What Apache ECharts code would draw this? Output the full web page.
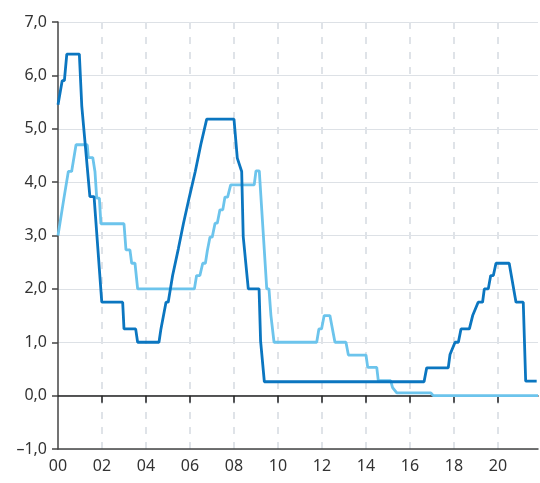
<!DOCTYPE html>
<html>
<head>
<meta charset="utf-8">
<script src="https://cdn.jsdelivr.net/npm/echarts@6/dist/echarts.min.js"></script>
<style>
html,body{margin:0;padding:0;background:#fff;}
#c{width:540px;height:483px;}
</style>
</head>
<body>
<div id="c"></div>
<script>
// x-axis tick years and labels
const tickYears = [2000, 2002, 2004, 2006, 2008, 2010, 2012, 2014, 2016, 2018, 2020];
const yTicks = [-1, 0, 1, 2, 3, 4, 5, 6, 7];

// dark blue series: [year, rate]
const darkSeries = [
  [2000.00, 5.45], [2000.19, 5.90], [2000.29, 5.90], [2000.40, 6.40], [2000.97, 6.40],
  [2001.08, 5.43], [2001.17, 5.43], [2001.45, 3.73], [2001.64, 3.73], [2001.68, 3.50],
  [2001.99, 1.75], [2002.94, 1.75], [2003.00, 1.25], [2003.53, 1.25], [2003.62, 1.00],
  [2004.59, 1.00], [2004.68, 1.25], [2004.74, 1.25], [2004.91, 1.75], [2005.01, 1.75],
  [2005.21, 2.25], [2005.30, 2.25], [2005.47, 2.75], [2005.55, 2.75], [2005.70, 3.22],
  [2005.76, 3.22], [2005.97, 3.72], [2006.03, 3.72], [2006.24, 4.20], [2006.30, 4.20],
  [2006.49, 4.70], [2006.58, 4.70], [2006.76, 5.18], [2008.00, 5.18], [2008.15, 4.45],
  [2008.24, 4.45], [2008.35, 4.20], [2008.42, 2.98], [2008.51, 2.98], [2008.65, 2.00],
  [2009.14, 2.00], [2009.21, 1.02], [2009.29, 1.02], [2009.38, 0.26], [2016.64, 0.26],
  [2016.76, 0.52], [2017.74, 0.52], [2017.82, 0.77], [2017.90, 0.77], [2018.05, 1.00],
  [2018.20, 1.00], [2018.32, 1.25], [2018.70, 1.25], [2018.85, 1.50], [2018.92, 1.50],
  [2019.10, 1.75], [2019.30, 1.75], [2019.38, 2.00], [2019.56, 2.00], [2019.67, 2.25],
  [2019.79, 2.25], [2019.91, 2.48], [2020.51, 2.48], [2020.82, 1.75], [2021.15, 1.75],
  [2021.26, 0.27], [2021.76, 0.27]
];

// light blue series: [year, rate]
const lightSeries = [
  [2000.00, 3.00], [2000.27, 3.70], [2000.36, 3.70], [2000.47, 4.20], [2000.62, 4.20],
  [2000.82, 4.70], [2001.33, 4.70], [2001.38, 4.46], [2001.58, 4.46], [2001.68, 4.20],
  [2001.76, 3.70], [2001.88, 3.70], [2001.95, 3.22], [2003.00, 3.22], [2003.09, 2.73],
  [2003.27, 2.73], [2003.35, 2.48], [2003.50, 2.48], [2003.62, 2.00], [2006.20, 2.00],
  [2006.30, 2.25], [2006.45, 2.25], [2006.58, 2.48], [2006.70, 2.48], [2006.79, 2.72],
  [2006.91, 2.97], [2007.01, 2.97], [2007.14, 3.23], [2007.24, 3.23], [2007.36, 3.48],
  [2007.49, 3.48], [2007.59, 3.72], [2007.71, 3.72], [2007.85, 3.95], [2008.92, 3.95],
  [2009.00, 4.21], [2009.15, 4.21], [2009.49, 2.00], [2009.59, 2.00], [2009.68, 1.50],
  [2009.82, 1.00], [2011.76, 1.00], [2011.86, 1.25], [2011.98, 1.25], [2012.10, 1.50],
  [2012.36, 1.50], [2012.59, 1.00], [2013.09, 1.00], [2013.20, 0.76], [2014.00, 0.76],
  [2014.08, 0.53], [2014.49, 0.53], [2014.56, 0.28], [2015.12, 0.28], [2015.21, 0.15],
  [2015.40, 0.05], [2016.95, 0.05], [2017.06, 0.00], [2021.82, 0.00]
];

const xMin = 2000, xMax = 2021.82;
const dashShift = 0.24;

const chart = echarts.init(document.getElementById('c'), null, {renderer: 'canvas'});
const fontFamily = '"Noto Sans", "Open Sans", sans-serif';
const labelColor = '#333';

chart.setOption({
  animation: false,
  backgroundColor: '#fff',
  grid: {left: 58, right: 2, top: 22, bottom: 34, containLabel: false},
  xAxis: [
    { // labels + bottom line
      type: 'value', min: xMin, max: xMax, interval: 2, position: 'bottom',
      axisLine: {show: true, onZero: false, lineStyle: {color: '#444', width: 1.5}},
      axisTick: {show: false},
      splitLine: {show: false},
      axisLabel: {
        show: true, margin: 9, color: labelColor, fontSize: 16, fontFamily: fontFamily,
        customValues: tickYears,
        formatter: v => String(Math.round(v)).slice(2)
      }
    },
    { // dashed vertical grid lines
      type: 'value', min: xMin + dashShift, max: xMax + dashShift, interval: 2, position: 'bottom',
      axisLine: {show: false, onZero: false}, axisTick: {show: false}, axisLabel: {show: false},
      splitLine: {show: true, showMinLine: false, showMaxLine: false,
        lineStyle: {color: '#dfe3e8', width: 2, type: [7, 8]}}
    },
    { // zero line with ticks
      type: 'value', min: xMin, max: xMax, interval: 2, position: 'bottom',
      axisLine: {show: true, onZero: true, lineStyle: {color: '#222', width: 1.5}},
      axisTick: {show: true, length: 7, inside: false, customValues: tickYears.slice(1),
        lineStyle: {color: '#222', width: 1.5}},
      axisLabel: {show: false},
      splitLine: {show: false}
    }
  ],
  yAxis: {
    type: 'value', min: yTicks[0], max: yTicks[yTicks.length - 1], interval: 1,
    axisLine: {show: true, lineStyle: {color: '#444', width: 1.5}},
    axisTick: {show: true, length: 6, lineStyle: {color: '#444', width: 1.5}},
    axisLabel: {
      margin: 11, color: labelColor, fontSize: 16, fontFamily: fontFamily,
      formatter: v => v.toFixed(1).replace('.', ',').replace('-', '\u2013')
    },
    splitLine: {show: true, lineStyle: {color: '#dde1e6', width: 1.2}}
  },
  series: [
    {
      type: 'line', name: 'light', xAxisIndex: 0, data: lightSeries, showSymbol: false,
      lineStyle: {color: '#6cc4ec', width: 2.8}, z: 3
    },
    {
      type: 'line', name: 'dark', xAxisIndex: 0, data: darkSeries, showSymbol: false,
      lineStyle: {color: '#0b76c0', width: 2.8}, z: 4
    }
  ]
});
</script>
</body>
</html>
